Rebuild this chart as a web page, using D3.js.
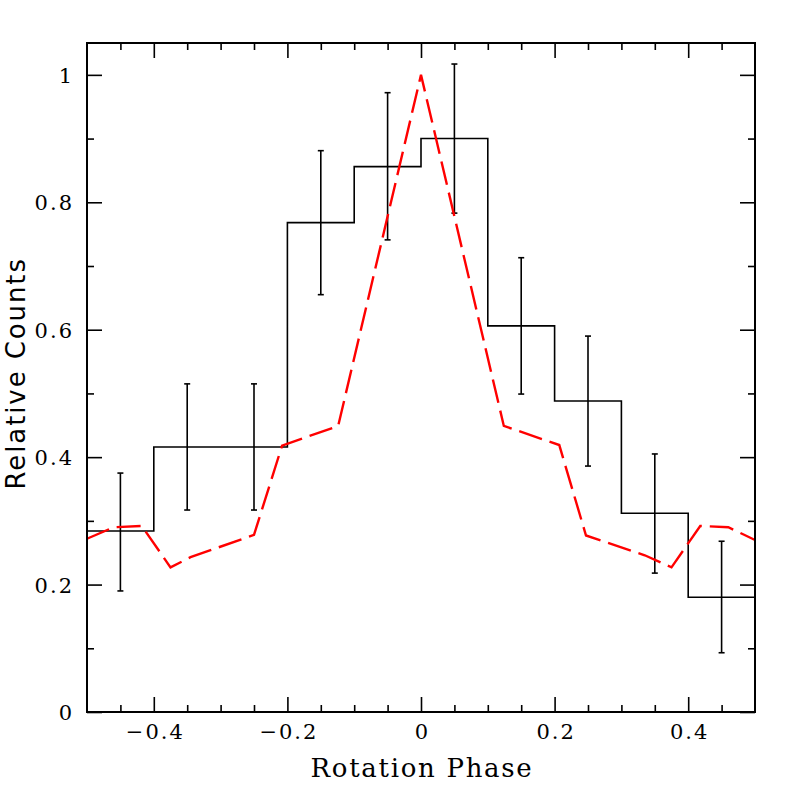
<!DOCTYPE html>
<html>
<head>
<meta charset="utf-8">
<script src="https://cdn.jsdelivr.net/npm/d3@7"></script>
<style>
  body { margin: 0; background: #fff; }
</style>
</head>
<body>
<svg id="chart"></svg>
<script>
// observed histogram, bins of 0.1 in phase
var binStarts = [-0.5, -0.4, -0.3, -0.2, -0.1, 0, 0.1, 0.2, 0.3, 0.4];
var counts    = [0.284, 0.416, 0.416, 0.768, 0.856, 0.900, 0.606, 0.488, 0.312, 0.180];
var errLow    = [0.190, 0.317, 0.317, 0.655, 0.741, 0.783, 0.499, 0.386, 0.218, 0.093];
var errHigh   = [0.375, 0.515, 0.515, 0.881, 0.972, 1.017, 0.713, 0.590, 0.405, 0.268];

// model curve (red dashed)
var modelPhase  = [-0.5, -0.46, -0.418, -0.375, -0.345, -0.25, -0.208, -0.124, 0, 0.124, 0.207, 0.247, 0.335, 0.375, 0.418, 0.46, 0.5];
var modelCounts = [0.272, 0.290, 0.292, 0.227, 0.243, 0.278, 0.418, 0.449, 1.0, 0.449, 0.419, 0.277, 0.246, 0.227, 0.292, 0.290, 0.270];

var xMajor = [-0.4, -0.2, 0, 0.2, 0.4];
var xTickLabels = ["\u22120.4", "\u22120.2", "0", "0.2", "0.4"];
var xMinor = [-0.45, -0.35, -0.3, -0.25, -0.15, -0.1, -0.05, 0.05, 0.1, 0.15, 0.25, 0.3, 0.35, 0.45];
var yMajor = [0, 0.2, 0.4, 0.6, 0.8, 1.0];
var yTickLabels = ["0", "0.2", "0.4", "0.6", "0.8", "1"];
var yMinor = [0.1, 0.3, 0.5, 0.7, 0.9];

var margin = { top: 43, right: 42, bottom: 85, left: 87 },
    width = 797 - margin.left - margin.right,
    height = 797 - margin.top - margin.bottom;

var svg = d3.select("#chart")
    .attr("width", 797)
    .attr("height", 797);

var chart = svg.append("g")
    .attr("transform", "translate(" + margin.left + "," + margin.top + ")");

var x = d3.scaleLinear().domain([-0.5, 0.5]).range([0, width]);
var y = d3.scaleLinear().domain([0, 1.05]).range([height, 0]);

chart.append("clipPath").attr("id", "plotclip")
    .append("rect").attr("width", width).attr("height", height);

// ticks, all pointing inward
var tickFont = "'DejaVu Serif', serif";

function styleAxis(g) {
    g.select(".domain").remove();
    g.selectAll(".tick line").attr("stroke", "#000").attr("stroke-width", 1.6);
    g.selectAll("text").attr("fill", "#000")
        .style("font-family", tickFont).style("font-size", "21px")
        .style("letter-spacing", "2px");
}

chart.append("g")
    .attr("transform", "translate(0," + height + ")")
    .call(d3.axisBottom(x).tickValues(xMajor).tickSize(-15).tickPadding(12)
        .tickFormat(function(d, i) { return xTickLabels[i]; }))
    .call(styleAxis)
    .selectAll("text").attr("dx", "1px");
chart.append("g")
    .attr("transform", "translate(0," + height + ")")
    .call(d3.axisBottom(x).tickValues(xMinor).tickSize(-7).tickFormat(""))
    .call(styleAxis);
chart.append("g")
    .call(d3.axisTop(x).tickValues(xMajor).tickSize(-15).tickFormat(""))
    .call(styleAxis);
chart.append("g")
    .call(d3.axisTop(x).tickValues(xMinor).tickSize(-7).tickFormat(""))
    .call(styleAxis);

chart.append("g")
    .call(d3.axisLeft(y).tickValues(yMajor).tickSize(-15).tickPadding(13)
        .tickFormat(function(d, i) { return yTickLabels[i]; }))
    .call(styleAxis)
    .selectAll("text").attr("dy", "0.36em");
chart.append("g")
    .call(d3.axisLeft(y).tickValues(yMinor).tickSize(-7).tickFormat(""))
    .call(styleAxis);
chart.append("g")
    .attr("transform", "translate(" + width + ",0)")
    .call(d3.axisRight(y).tickValues(yMajor).tickSize(-15).tickFormat(""))
    .call(styleAxis);
chart.append("g")
    .attr("transform", "translate(" + width + ",0)")
    .call(d3.axisRight(y).tickValues(yMinor).tickSize(-7).tickFormat(""))
    .call(styleAxis);

var plot = chart.append("g").attr("clip-path", "url(#plotclip)");

// histogram steps
var steps = binStarts.map(function(s, i) { return [s, counts[i]]; });
steps.push([0.5, counts[counts.length - 1]]);

plot.append("path")
    .datum(steps)
    .attr("fill", "none")
    .attr("stroke", "#000")
    .attr("stroke-width", 1.6)
    .attr("d", d3.line()
        .x(function(d) { return x(d[0]); })
        .y(function(d) { return y(d[1]); })
        .curve(d3.curveStepAfter));

// error bars at bin centres
var bars = plot.selectAll(".err")
    .data(binStarts)
    .enter().append("g")
    .attr("class", "err")
    .attr("stroke", "#000")
    .attr("stroke-width", 1.6);

bars.append("line")
    .attr("x1", function(d) { return x(d + 0.05); })
    .attr("x2", function(d) { return x(d + 0.05); })
    .attr("y1", function(d, i) { return y(errLow[i]); })
    .attr("y2", function(d, i) { return y(errHigh[i]); });
bars.append("line")
    .attr("x1", function(d) { return x(d + 0.05) - 3; })
    .attr("x2", function(d) { return x(d + 0.05) + 3; })
    .attr("y1", function(d, i) { return y(errLow[i]); })
    .attr("y2", function(d, i) { return y(errLow[i]); });
bars.append("line")
    .attr("x1", function(d) { return x(d + 0.05) - 3; })
    .attr("x2", function(d) { return x(d + 0.05) + 3; })
    .attr("y1", function(d, i) { return y(errHigh[i]); })
    .attr("y2", function(d, i) { return y(errHigh[i]); });

// model curve
plot.append("path")
    .datum(modelPhase.map(function(p, i) { return [p, modelCounts[i]]; }))
    .attr("fill", "none")
    .attr("stroke", "#ff0000")
    .attr("stroke-width", 2.4)
    .attr("stroke-dasharray", "24,8")
    .attr("d", d3.line()
        .x(function(d) { return x(d[0]); })
        .y(function(d) { return y(d[1]); }));

// frame
chart.append("rect")
    .attr("width", width)
    .attr("height", height)
    .attr("fill", "none")
    .attr("stroke", "#000")
    .attr("stroke-width", 2);

// axis titles
svg.append("text")
    .text("Rotation Phase")
    .attr("x", margin.left + width / 2 + 1)
    .attr("y", 777)
    .attr("text-anchor", "middle")
    .attr("fill", "#000")
    .style("font-family", "'DejaVu Serif', serif")
    .style("font-size", "26px")
    .style("letter-spacing", "1.7px");

svg.append("text")
    .text("Relative Counts")
    .attr("text-anchor", "middle")
    .attr("fill", "#000")
    .attr("transform", "translate(25," + (margin.top + y(0.53) - 1) + ") rotate(-90)")
    .style("font-family", "'DejaVu Sans', sans-serif")
    .style("font-size", "26px")
    .style("letter-spacing", "1.9px");
</script>
</body>
</html>
